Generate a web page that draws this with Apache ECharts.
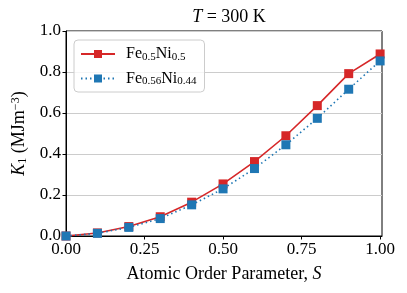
<!DOCTYPE html>
<html><head><meta charset="utf-8">
<script src="https://cdn.jsdelivr.net/npm/echarts@6/dist/echarts.min.js"></script>
<style>html,body{margin:0;padding:0;background:#fff}#c{width:407px;height:293px}</style>
</head><body><div id="c"></div>
<script>
const S = [0, 0.1, 0.2, 0.3, 0.4, 0.5, 0.6, 0.7, 0.8, 0.9, 1.0];
const K1_Fe50Ni50 = [0, 0.015, 0.046, 0.094, 0.165, 0.254, 0.363, 0.489, 0.636, 0.792, 0.888];
const K1_Fe56Ni44 = [0, 0.013, 0.042, 0.085, 0.152, 0.230, 0.329, 0.445, 0.574, 0.716, 0.854];
const xTicks = [0, 0.25, 0.5, 0.75, 1.0];
const yTicks = [0, 0.2, 0.4, 0.6, 0.8, 1.0];

const FONT = 'Liberation Serif';
const chart = echarts.init(document.getElementById('c'), null, {renderer: 'canvas'});
const rich = {
  n: {fontFamily: FONT, fontSize: 16, color: '#000'},
  s: {fontFamily: FONT, fontSize: 11, color: '#000', verticalAlign: 'bottom', padding: [6, 0, 0, 0]}
};
chart.setOption({
  animation: false,
  title: {
    text: '{i|T}{n| = 300 K}',
    left: 224, top: 3, textAlign: 'center',
    textStyle: {fontWeight: 'normal', rich: {
      i: {fontFamily: FONT, fontStyle: 'italic', fontWeight: 'normal', fontSize: 18, color: '#000'},
      n: {fontFamily: FONT, fontWeight: 'normal', fontSize: 18, color: '#000'}
    }}
  },
  grid: {left: 66, right: 25, top: 31, bottom: 57, show: true, borderColor: '#000', borderWidth: 1},
  legend: {
    left: 74, top: 40, orient: 'vertical',
    padding: [6, 8, 5, 6], itemGap: 8,
    itemWidth: 34, itemHeight: 10,
    borderColor: '#ccc', borderWidth: 1, borderRadius: 4, backgroundColor: 'rgba(255,255,255,0.8)',
    data: ['a', 'b'],
    formatter: function (name) {
      return name === 'a' ? '{n|Fe}{s|0.5}{n|Ni}{s|0.5}' : '{n|Fe}{s|0.56}{n|Ni}{s|0.44}';
    },
    textStyle: {rich: rich, padding: [0, 0, 0, 6]}
  },
  xAxis: {
    type: 'value', min: 0, max: 1.006,
    name: '{n|Atomic Order Parameter, }{i|S}', nameLocation: 'middle', nameGap: 29,
    nameTextStyle: {rich: {
      n: {fontFamily: FONT, fontSize: 18, color: '#000'},
      i: {fontFamily: FONT, fontStyle: 'italic', fontSize: 18, color: '#000'}
    }},
    axisLine: {lineStyle: {color: '#000'}},
    axisTick: {show: true, inside: false, length: 3.5, lineStyle: {color: '#000'}, customValues: xTicks},
    axisLabel: {customValues: xTicks, fontFamily: FONT, fontSize: 17, color: '#000', margin: 5,
      formatter: v => v.toFixed(2)},
    splitLine: {show: false}
  },
  yAxis: {
    type: 'value', min: 0, max: 1.0, interval: 0.2,
    name: '{i|K}{s|1}{n| (MJm}{p|−3}{n|)}', nameLocation: 'middle', nameGap: 30, nameRotate: 90,
    nameTextStyle: {rich: {
      n: {fontFamily: FONT, fontSize: 18, color: '#000'},
      i: {fontFamily: FONT, fontStyle: 'italic', fontSize: 18, color: '#000'},
      s: {fontFamily: FONT, fontSize: 12, color: '#000', verticalAlign: 'bottom', padding: [7, 0, 0, 0]},
      p: {fontFamily: FONT, fontSize: 12, color: '#000', verticalAlign: 'top', padding: [0, 0, 7, 0]}
    }},
    axisLine: {show: true, lineStyle: {color: '#000'}},
    axisTick: {show: true, inside: false, length: 3.5, lineStyle: {color: '#000'}},
    axisLabel: {fontFamily: FONT, fontSize: 17, color: '#000', margin: 5, formatter: v => v.toFixed(1)},
    splitLine: {show: true, lineStyle: {color: '#cccccc', width: 1}}
  },
  series: [
    {name: 'a', type: 'line', data: S.map((x, i) => [x, K1_Fe50Ni50[i]]),
     symbol: 'rect', symbolSize: 9, clip: false,
     lineStyle: {color: '#d62728', width: 1.6, type: 'solid'},
     itemStyle: {color: '#d62728'}, z: 2},
    {name: 'b', type: 'line', data: S.map((x, i) => [x, K1_Fe56Ni44[i]]),
     symbol: 'rect', symbolSize: 9, clip: false,
     lineStyle: {color: '#1f77b4', width: 1.6, type: [1.5, 3]},
     itemStyle: {color: '#1f77b4'}, z: 3}
  ]
});
</script></body></html>
